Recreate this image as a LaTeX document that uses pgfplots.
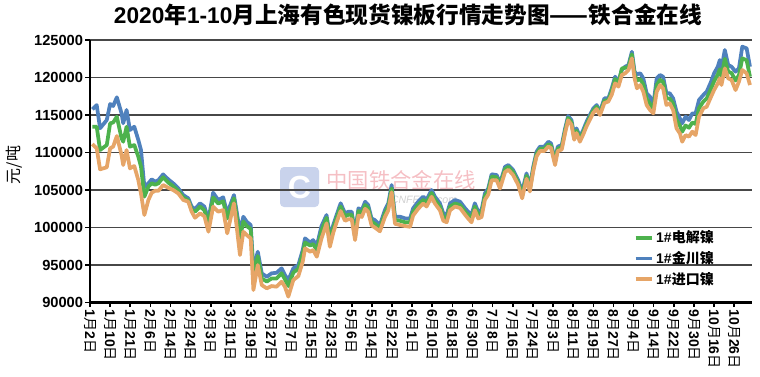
\documentclass[border=0pt]{standalone}
\usepackage{fontspec}
\setmainfont{Liberation Sans}
\newfontfamily\cjk{Noto Sans CJK SC}
\usepackage{pgfplots}
\usepackage{pgfplotstable}
\pgfplotsset{compat=1.18}
\definecolor{cblue}{HTML}{4F81BD}
\definecolor{cgreen}{HTML}{4DB24D}
\definecolor{corange}{HTML}{E6A567}
\definecolor{wmpink}{HTML}{F5BFC4}
\definecolor{wmblue}{HTML}{C9D3EC}
\newcommand{\Yue}{{\cjk\mdseries 月}}
\newcommand{\Ri}{{\cjk\mdseries 日}}

\pgfplotstableread{
t jc dj jk
0.7 115760 113440 111130
2.0 116330 113440 110560
3.0 113230 110330 107760
5.0 114330 111000 108030
6.0 116470 113890 110560
6.9 116200 114000 110780
8.0 117360 114780 112200
9.4 115230 111890 109670
9.9 113900 111440 108330
10.9 115670 113440 110330
11.9 113000 110780 107890
13.2 113440 111000 108200
14.4 111670 109440 106330
15.2 110330 108110 104500
16.2 105440 104110 101670
17.4 105890 105440 103670
18.4 106430 105900 104640
19.4 106110 105700 104900
20.4 106330 105900 104900
21.8 107090 106700 105670
23.3 106430 106000 105300
24.8 105890 105500 105000
26.3 105230 104900 104560
27.8 104330 104000 103670
29.3 103890 103600 103440
30.3 102780 102400 102110
31.3 102450 102100 101300
32.8 103230 102800 101890
34.1 102780 102300 101500
35.3 101000 100500 99440
36.7 104640 104000 102780
38.2 103670 103200 102110
39.7 104030 103500 102330
40.9 101890 101200 99220
42.9 104330 103900 103230
44.7 99440 98600 96330
45.7 101440 100800 99440
46.7 100780 100200 99000
47.9 100330 99800 98560
48.7 94330 93400 91670
50.0 96780 96200 95000
51.2 93890 93200 92330
52.7 93440 92800 91890
54.1 93890 93200 92200
55.6 93970 93200 92110
57.1 94560 93900 92780
58.1 93670 93100 92110
59.1 93000 92200 90780
60.6 94560 94000 93000
62.1 95000 94500 93530
63.4 97000 96500 95440
64.1 98560 98000 97220
65.6 98000 97600 96780
66.5 98330 97800 97000
67.6 97550 97000 96110
69.0 100200 99600 98560
70.5 101670 101300 100560
71.5 98780 98300 97440
72.5 100330 99900 99300
73.5 101670 101300 100700
74.7 103230 102800 102200
76.0 101890 101500 100900
77.0 102110 101700 101100
78.0 102110 101700 101100
79.0 99220 98800 98330
80.0 102560 102200 101600
81.0 102330 101900 101400
82.0 103440 103000 102500
82.9 103000 102600 102100
83.9 101220 100800 100300
84.9 101000 100500 100000
86.4 100330 99900 99500
87.9 102330 101900 101400
88.9 103230 102800 102300
89.9 105670 105200 104700
90.9 101440 101000 100500
92.4 101440 100900 100330
93.9 101220 100700 100200
95.4 101220 100700 100100
96.3 102560 102100 101600
97.8 103440 103000 102500
99.3 104110 103700 103200
100.3 103670 103300 102800
101.8 105000 104600 104100
102.8 104110 103700 103200
104.3 103230 102800 102300
105.3 101890 101400 100900
106.3 101670 101200 100700
107.3 103230 102800 102300
108.8 103670 103200 102800
110.3 103440 103000 102600
111.8 102560 102100 101700
112.7 102110 101700 101200
113.7 101670 101200 100700
114.7 103230 102800 102300
115.7 102110 101700 101200
116.7 102330 101900 101400
117.7 104560 104200 103700
118.7 105220 104900 104400
119.7 107100 106800 106300
121.2 107000 106700 106300
122.2 105890 105600 105200
123.7 108110 107800 107400
124.7 108330 108100 107700
126.1 107670 107400 107000
127.6 106340 106000 105700
128.8 104780 104300 103890
130.1 107220 106900 106500
131.1 105440 105100 104800
132.1 108110 107800 107500
133.1 110110 109800 109500
134.1 110780 110500 110200
135.4 110780 110500 110200
136.6 111440 111100 110800
137.4 111220 110900 110600
138.6 109000 108700 108330
139.4 110780 110500 110200
140.6 111000 110700 110400
141.6 113220 112900 112600
142.5 114870 114600 114300
143.5 114330 114000 113700
144.3 112330 112000 111700
145.0 113220 112900 112600
146.0 112100 111800 111440
147.0 113000 112700 112400
148.0 114110 113800 113500
149.0 115000 114700 114400
150.0 115890 115600 115300
151.0 116330 116100 115800
152.0 115440 115200 115000
153.3 117220 116900 116600
154.5 117220 117000 116800
155.5 118560 118200 117700
156.5 120110 119800 119220
157.5 119440 119200 118780
158.5 121000 121200 120330
159.5 121440 121300 120560
160.5 121670 121400 121000
161.5 123440 123100 122560
162.3 120780 120400 119890
163.0 120430 119600 118560
164.0 120560 119800 119000
164.9 119890 119100 118110
165.9 117890 117200 116330
166.9 117440 116500 115670
167.9 116330 115800 115220
168.9 119890 119000 118110
169.9 120330 119700 119000
170.8 120110 119400 118560
171.8 117890 117200 116330
172.8 117890 117200 116560
173.8 117220 116500 115670
174.8 115440 114400 113220
175.8 114560 113600 112560
176.5 113890 112780 111440
177.5 114780 113600 112330
178.5 114330 113300 112110
179.5 115220 114000 112780
180.5 115220 113800 112330
181.5 117000 115900 114780
182.8 117670 116800 115890
183.8 118110 117200 116110
185.1 119440 118500 117440
186.0 120560 119500 118330
187.1 121440 120400 119220
187.7 122330 121100 119890
188.2 121220 120100 119000
189.2 123670 122500 121220
190.2 121670 120800 119890
191.2 121440 120600 119670
192.4 120780 119600 118330
193.4 121220 120300 119440
194.4 124110 122560 121000
195.7 123890 122300 120560
196.7 121440 120110 119000
}\nidata

\begin{document}
\begin{tikzpicture}
\useasboundingbox (0,0) rectangle (570pt,282pt);
% watermark
\fill[wmblue, rounded corners=3pt] (210pt,126.75pt) rectangle (239.25pt,156.75pt);
\node[white, font=\bfseries\fontsize{24}{24}\selectfont] at (224.6pt,141.75pt) {C};
\node[wmpink, font=\cjk\fontsize{16}{16}\selectfont] at (300.75pt,147pt) {中国铁合金在线};
\node[black!18, font=\itshape\fontsize{8}{8}\selectfont] at (318pt,132pt) {CNFEOL.com};
\begin{axis}[
  at={(67.5pt,55.1pt)}, anchor=south west,
  scale only axis, width=496.5pt, height=196.9pt,
  xmin=0, xmax=197.3, ymin=90000, ymax=125000,
  axis x line*=bottom, axis y line*=left,
  axis line style={line width=1.6pt, black, -},
  ytick={90000,95000,...,125000},
  scaled y ticks=false,
  yticklabel={\pgfmathprintnumber[fixed,precision=0,1000 sep={}]{\tick}},
  xtick={0,6,...,192},
  xticklabels={1\Yue2\Ri, 1\Yue10\Ri, 1\Yue21\Ri, 2\Yue6\Ri, 2\Yue14\Ri, 2\Yue24\Ri, 3\Yue3\Ri, 3\Yue11\Ri, 3\Yue19\Ri, 3\Yue27\Ri, 4\Yue7\Ri, 4\Yue15\Ri, 4\Yue23\Ri, 5\Yue6\Ri, 5\Yue14\Ri, 5\Yue22\Ri, 6\Yue1\Ri, 6\Yue10\Ri, 6\Yue18\Ri, 6\Yue30\Ri, 7\Yue8\Ri, 7\Yue16\Ri, 7\Yue24\Ri, 8\Yue3\Ri, 8\Yue11\Ri, 8\Yue19\Ri, 8\Yue27\Ri, 9\Yue4\Ri, 9\Yue14\Ri, 9\Yue22\Ri, 9\Yue30\Ri, 10\Yue16\Ri, 10\Yue26\Ri},
  ymajorgrids, grid style={black!72, line width=0.9pt},
  tick align=outside, major tick length=3.5pt,
  tick style={black, line width=1.2pt},
  /pgf/number format/1000 sep={},
  /pgf/number format/assume math mode=true,
  yticklabel style={font=\bfseries\fontsize{11}{12}\selectfont, inner sep=1.5pt},
  xticklabel style={font=\bfseries\fontsize{10.5}{10.5}\selectfont, rotate=-90, anchor=west, inner sep=1.5pt},
  legend style={at={(0.815,0.295)}, anchor=north west, draw=none, fill=none,
    font=\bfseries\fontsize{10.5}{12}\selectfont, row sep=1pt},
  legend cell align=left,
  legend image code/.code={\draw[#1] (0pt,0pt) -- (12pt,0pt);},
  every axis plot/.append style={line width=2.8pt, line join=round},
]
\addplot[cblue, forget plot] table[x=t, y=jc]{\nidata};
\addplot[cgreen, forget plot] table[x=t, y=dj]{\nidata};
\addplot[corange, forget plot] table[x=t, y=jk]{\nidata};
\addlegendimage{cgreen, line width=2.8pt}
\addlegendentry{1\#{\cjk 电解镍}}
\addlegendimage{cblue, line width=2.8pt}
\addlegendentry{1\#{\cjk 金川镍}}
\addlegendimage{corange, line width=2.8pt}
\addlegendentry{1\#{\cjk 进口镍}}
\end{axis}
\node[font=\fontsize{17}{19}\selectfont] at (306pt,270.5pt) {\bfseries 2020{\cjk 年}1-10{\cjk 月上海有色现货镍板行情走势图——铁合金在线}};
\node[rotate=90, font=\cjk\fontsize{12}{13}\selectfont] at (10.5pt,158.25pt) {元/吨};
\end{tikzpicture}
\end{document}
